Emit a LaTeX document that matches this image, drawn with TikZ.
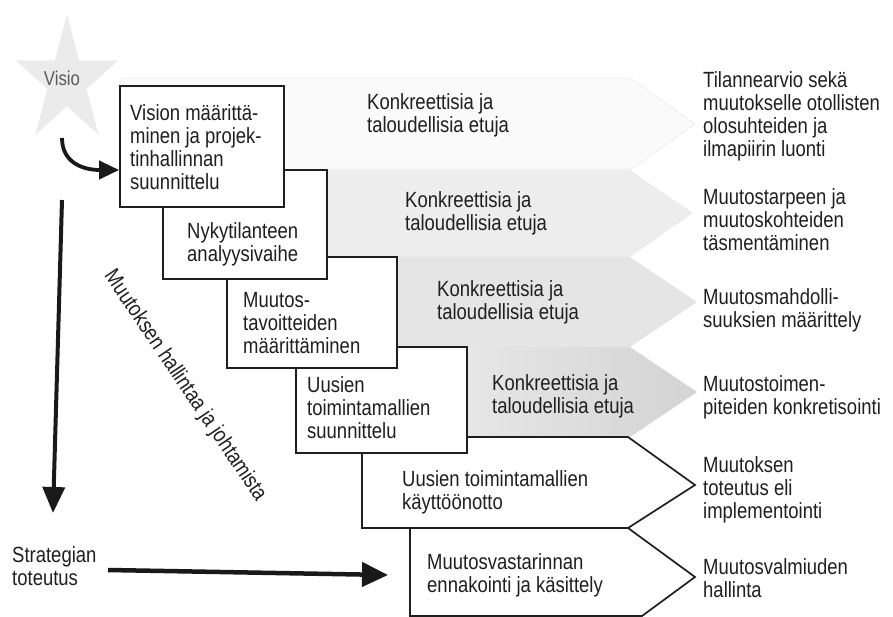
\documentclass[tikz,border=0pt]{standalone}
\usepackage{fontspec}
\setmainfont{Liberation Sans}[FakeStretch=0.84]
\usetikzlibrary{arrows.meta}
\begin{document}
\begin{tikzpicture}[x=1pt,y=-1pt,
  lbl/.style={inner sep=0pt, anchor=west, align=left, font=\fontsize{22}{23}\selectfont, text=black!88},
  stepbox/.style={draw=black!88, line width=1.7pt, fill=white, inner sep=0pt},
  bigarrow/.style={line width=4pt, draw=black!90, -{Triangle[length=26pt,width=22pt]}},
]
\useasboundingbox (0,0) rectangle (893,617);

% star
\fill[black!8] (67,14.4) -- (79.1,60.4) -- (118.3,60.4) -- (86.6,88.8) -- (98.7,134.9)
  -- (67,106.4) -- (35.3,134.9) -- (47.4,88.8) -- (15.7,60.4) -- (54.9,60.4) -- cycle;
\node[lbl, anchor=center, text=black!65, font=\fontsize{20}{22}\selectfont] (visio) at (62,78) {Visio};

% gray arrows
\path[fill=black!2, draw=black!7, line width=0.8pt] (120,78) -- (630,78) -- (695,124) -- (630,170) -- (120,170) -- cycle;
\fill[black!7] (300,170) -- (630,170) -- (693,213) -- (630,257) -- (300,257) -- cycle;
\fill[black!10] (370,257) -- (630,257) -- (697,302) -- (630,347) -- (370,347) -- cycle;
\shade[left color=black!9, right color=black!17] (440,347) -- (630,347) -- (697,392) -- (630,437) -- (440,437) -- cycle;

% outlined pentagons
\path[stepbox] (410,528) -- (628,528) -- (695,577) -- (642,616) -- (410,616) -- cycle;
\path[stepbox] (362,437) -- (628,437) -- (695,485) -- (628,528) -- (362,528) -- cycle;

% step boxes
\node[stepbox, minimum width=171pt, minimum height=106pt] (b4) at (381.5,400) {};
\node[stepbox, minimum width=170pt, minimum height=111pt] (b3) at (312,312.5) {};
\node[stepbox, minimum width=164pt, minimum height=109pt] (b2) at (245,224.5) {};
\node[stepbox, minimum width=164pt, minimum height=121pt] (b1) at (202,146.5) {};

% box texts
\node[lbl] (t1) at (130,147) {Vision määrittä-\\minen ja projek-\\tinhallinnan\\suunnittelu};
\node[lbl] (t2) at (187,244) {Nykytilanteen\\analyysivaihe};
\node[lbl] (t3) at (243,323) {Muutos-\\tavoitteiden\\määrittäminen};
\node[lbl] (t4) at (307,408) {Uusien\\toimintamallien\\suunnittelu};
\node[lbl] (t5) at (402,492) {Uusien toimintamallien\\käyttöönotto};
\node[lbl] (t6) at (427,575) {Muutosvastarinnan\\ennakointi ja käsittely};

% arrow texts
\node[lbl] (k1) at (367,115) {Konkreettisia ja\\taloudellisia etuja};
\node[lbl] (k2) at (405,213) {Konkreettisia ja\\taloudellisia etuja};
\node[lbl] (k3) at (437,302) {Konkreettisia ja\\taloudellisia etuja};
\node[lbl] (k4) at (492,396) {Konkreettisia ja\\taloudellisia etuja};

% right texts
\node[lbl] (r1) at (703,116) {Tilannearvio sekä\\muutokselle otollisten\\olosuhteiden ja\\ilmapiirin luonti};
\node[lbl] (r2) at (703,220) {Muutostarpeen ja\\muutoskohteiden\\täsmentäminen};
\node[lbl] (r3) at (703,310) {Muutosmahdolli-\\suuksien määrittely};
\node[lbl] (r4) at (703,397) {Muutostoimen-\\piteiden konkretisointi};
\node[lbl] (r5) at (703,490) {Muutoksen\\toteutus eli\\implementointi};
\node[lbl] (r6) at (703,578) {Muutosvalmiuden\\hallinta};

% left texts
\node[lbl] (strat) at (12,566) {Strategian\\toteutus};
\node[lbl, anchor=center, rotate=-56] (mgmt) at (185,386) {Muutoksen hallintaa ja johtamista};

% connectors
\coordinate (cstart) at (62,138);
\coordinate (vtop) at (62,200);
\coordinate (vend) at (53,513);
\coordinate (hstart) at (108,570);
\coordinate (hend) at (388,575);
\draw[line width=3.8pt, black!90, -{Triangle[length=20pt,width=18pt]}]
  (cstart) .. controls (62,162) and (82,170) .. (b1.west |- 0,170);
\draw[bigarrow] (vtop) -- (vend);
\draw[bigarrow, line width=4.5pt, -{Triangle[length=26pt,width=24pt]}] (hstart) -- (hend);
\end{tikzpicture}
\end{document}
